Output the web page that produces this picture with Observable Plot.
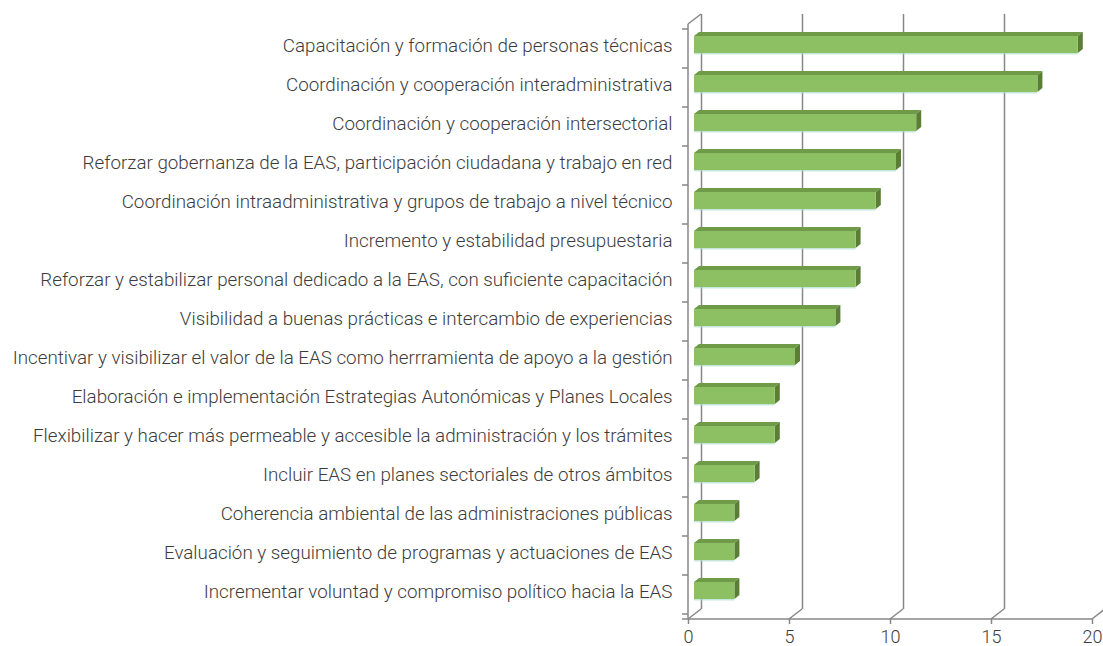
<!DOCTYPE html>
<html>
<head>
<meta charset="utf-8">
<script src="https://cdn.jsdelivr.net/npm/d3@7"></script>
<script src="https://cdn.jsdelivr.net/npm/@observablehq/plot@0.6"></script>
<style>
  html, body { margin: 0; padding: 0; background: #fff; }
  #chart svg { display: block; }
</style>
</head>
<body>
<div id="chart"></div>
<script>
const categories = [
  "Capacitación y formación de personas técnicas",
  "Coordinación y cooperación interadministrativa",
  "Coordinación y cooperación intersectorial",
  "Reforzar gobernanza de la EAS, participación ciudadana y trabajo en red",
  "Coordinación intraadministrativa y grupos de trabajo a nivel técnico",
  "Incremento y estabilidad presupuestaria",
  "Reforzar y estabilizar personal dedicado a la EAS, con suficiente capacitación",
  "Visibilidad a buenas prácticas e intercambio de experiencias",
  "Incentivar y visibilizar el valor de la EAS como herrramienta de apoyo a la gestión",
  "Elaboración e implementación Estrategias Autonómicas y Planes Locales",
  "Flexibilizar y hacer más permeable y accesible la administración y los trámites",
  "Incluir EAS en planes sectoriales de otros ámbitos",
  "Coherencia ambiental de las administraciones públicas",
  "Evaluación y seguimiento de programas y actuaciones de EAS",
  "Incrementar voluntad y compromiso político hacia la EAS"
];
const values = [19, 17, 11, 10, 9, 8, 8, 7, 5, 4, 4, 3, 2, 2, 2];
const xTicks = [0, 5, 10, 15, 20];

const data = categories.map((c, i) => ({category: c, value: values[i]}));

const GRID = "#878787";
const FRONT = "#8DBF63";
const TOP = "#6F9A47";
const SIDE = "#5B7E37";
const EDGE = "#A9DCCB";
const TEXT = "#3c3c3c";
const WALL_DX = 13, WALL_DY = -10;
const BAR_DX = 6, BAR_DY = -4;
const INSET = 11;
const DEPTH_DX = 5, DEPTH_DY = -4;

function bw(y) {
  return y.bandwidth ? y.bandwidth() : (y(categories[1]) - y(categories[0]));
}

// frame pieces: left front axis, band ticks, floor slants, bottom line
function frameMark(index, scales, values_, dims) {
  const x = scales.x, y = scales.y;
  const g = d3.create("svg:g").attr("stroke", GRID).attr("stroke-width", 1.5).attr("fill", "none");
  const top = dims.marginTop, bottom = dims.height - dims.marginBottom;
  const x0 = x(0);
  g.append("line").attr("x1", x0).attr("x2", x0).attr("y1", top).attr("y2", bottom);
  g.append("line").attr("x1", x0).attr("y1", top).attr("x2", x0 + WALL_DX).attr("y2", top + WALL_DY);
  const b = bw(y);
  const bounds = categories.map(c => y(c)).concat([y(categories[categories.length - 1]) + b]);
  for (const yb of bounds) {
    g.append("line").attr("x1", x0 - 6).attr("x2", x0).attr("y1", yb).attr("y2", yb);
  }
  for (const t of xTicks) {
    g.append("line").attr("x1", x(t)).attr("y1", bottom).attr("x2", x(t) + WALL_DX).attr("y2", bottom + WALL_DY);
  }
  g.append("line").attr("x1", x0 - 6).attr("x2", x(20)).attr("y1", bottom).attr("y2", bottom);
  return g.node();
}

// 3D top and side faces of the bars
function depthMark(index, scales) {
  const x = scales.x, y = scales.y;
  const b = bw(y);
  const g = d3.create("svg:g");
  data.forEach(d => {
    const xa = x(0) + BAR_DX, xb = x(d.value) + BAR_DX;
    const yt = y(d.category) + INSET + BAR_DY, yb = y(d.category) + b - INSET + BAR_DY;
    g.append("polygon")
      .attr("points", [[xa, yt], [xb, yt], [xb + DEPTH_DX, yt + DEPTH_DY], [xa + DEPTH_DX, yt + DEPTH_DY]].map(p => p.join(",")).join(" "))
      .attr("fill", TOP);
    g.append("polygon")
      .attr("points", [[xb, yt], [xb + DEPTH_DX, yt + DEPTH_DY], [xb + DEPTH_DX, yb + DEPTH_DY], [xb, yb]].map(p => p.join(",")).join(" "))
      .attr("fill", SIDE);
  });
  return g.node();
}

const chart = Plot.plot({
  width: 1103,
  height: 646,
  marginLeft: 688,
  marginRight: 11,
  marginTop: 24,
  marginBottom: 27,
  style: {fontFamily: "Roboto, 'Open Sans', sans-serif", fontWeight: 300, color: TEXT, background: "#fff", overflow: "visible"},
  x: {domain: [0, 20], ticks: xTicks, label: null},
  y: {domain: categories, padding: 0, label: null},
  marks: [
    Plot.ruleX(xTicks, {dx: WALL_DX, dy: WALL_DY, stroke: GRID, strokeWidth: 1.5}),
    frameMark,
    depthMark,
    Plot.barX(data, {x: "value", y: "category", fill: FRONT, insetTop: INSET, insetBottom: INSET, dx: BAR_DX, dy: BAR_DY}),
    Plot.ruleY(data, {x1: 0, x2: "value", y: "category", dx: BAR_DX, dy: BAR_DY + (39.67 / 2 - INSET), stroke: EDGE, strokeWidth: 1}),
    Plot.axisY({tickSize: 0, tickPadding: 16, fontSize: 18.8, fill: TEXT, dy: -3, label: null}),
    Plot.axisX(xTicks, {tickSize: 5, tickPadding: 6, fontSize: 18, fill: TEXT, stroke: GRID, strokeWidth: 1.5, label: null})
  ]
});
document.getElementById("chart").appendChild(chart);
</script>
</body>
</html>
